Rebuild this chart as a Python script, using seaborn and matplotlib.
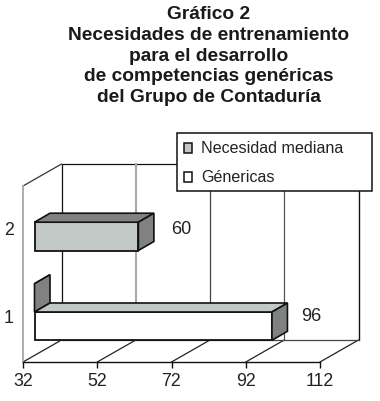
import numpy as np
import pandas as pd
import matplotlib
matplotlib.use("Agg")
import matplotlib.pyplot as plt
from matplotlib.patches import Patch, Polygon
from matplotlib.lines import Line2D
from matplotlib.transforms import IdentityTransform
import seaborn as sns

title = "Gráfico 2\nNecesidades de entrenamiento\npara el desarrollo\nde competencias genéricas\ndel Grupo de Contaduría"
categories = ["2", "1"]
necesidad_mediana = [60, 32]
genericas = [np.nan, 96]
series_names = ["Necesidad mediana", "Génericas"]
value_ticks = [32, 52, 72, 92, 112]

sns.set_theme(style="white")
plt.rcParams["font.family"] = ["Liberation Sans", "DejaVu Sans"]

W, H = 380, 401
fig = plt.figure(figsize=(W / 100, H / 100), dpi=100, facecolor="white")


def rect(l, r, t, b):
    return [l / W, 1 - b / H, (r - l) / W, (b - t) / H]


DARK = "#111111"
GRAY = "#c2c8c5"
SIDE = "#808282"
GRID = "#a8a8aa"
DX, DY = 38.5, 22  # wall depth in pixels
BX, BY = 15.5, 9   # bar depth in pixels

# front plane carrying the axes
ax = fig.add_axes(rect(23, 320, 186, 362), zorder=1)
ax.patch.set_alpha(0)
ax.set_xlim(value_ticks[0], value_ticks[-1])
ax.set_ylim(0, 2)
ax.set_xticks(value_ticks)
ax.set_yticks([0.52, 1.52])
ax.set_yticklabels(["1", "2"])
ax.tick_params(axis="x", length=4, width=1, color=DARK, pad=3.8, labelsize=12.8, labelcolor="#222222", bottom=True)
ax.tick_params(axis="y", length=0, pad=6.5, labelsize=12.8, labelcolor="#222222")
for s in ["top", "right"]:
    ax.spines[s].set_visible(False)
ax.spines["bottom"].set_color(DARK)
ax.spines["bottom"].set_linewidth(1)
ax.spines["left"].set_color(GRID)
ax.spines["left"].set_linewidth(1.3)


def disp(a, x, y):
    return a.transData.transform((x, y))


def seg(p, q, color=DARK, lw=0.9):
    ax.add_artist(Line2D([p[0], q[0]], [p[1], q[1]], color=color, lw=lw,
                         transform=IdentityTransform(), clip_on=False, zorder=1))


d = np.array([DX, DY])
top_l = disp(ax, value_ticks[0], 2)
top_r = disp(ax, value_ticks[-1], 2)
seg(top_l, top_l + d, color="#333333")
seg(top_l + d, top_r + d)
grid_styles = [(DARK, 0.9), (GRID, 1.5), ("#444444", 0.9), ("#555555", 0.9), (DARK, 1.0)]
for t, (c, w) in zip(value_ticks, grid_styles):
    base = disp(ax, t, 0)
    head = disp(ax, t, 2)
    seg(base, base + d, color="#222222", lw=0.9)
    seg(base + d, head + d, color=c, lw=w)
b_l, b_r = disp(ax, value_ticks[0], 0), disp(ax, value_ticks[-1], 0)
seg(b_l + d, b_r + d, color="#444444")

# bars: front faces come from seaborn
axb = fig.add_axes(rect(34.5, 331.3, 219.75, 342.75), zorder=2)
axb.patch.set_alpha(0)
df = pd.DataFrame({
    "cat": categories * 2,
    "serie": [series_names[0]] * 2 + [series_names[1]] * 2,
    "value": necesidad_mediana + genericas,
})
sns.barplot(data=df, y="cat", x="value", hue="serie", order=categories, hue_order=series_names,
            palette=[GRAY, "white"], saturation=1, width=0.92, dodge=True, gap=0,
            edgecolor=DARK, linewidth=1.3, legend=False, ax=axb)
axb.set_xlim(value_ticks[0], value_ticks[-1])
axb.set_ylim(1.5, -0.5)
axb.axis("off")
fig.canvas.draw()

face_colors = [(SIDE, SIDE), (GRAY, SIDE)]
o = np.array([BX, BY])
for cont, (top_c, side_c) in zip(axb.containers, face_colors):
    for p in cont.patches:
        val = p.get_width()
        if np.isnan(val):
            continue
        p.set_x(value_ticks[0])
        p.set_width(val - value_ticks[0])
        p.set_clip_on(False)
        y0, y1 = p.get_y(), p.get_y() + p.get_height()  # y1 is lower on screen
        tl, tr = disp(axb, value_ticks[0], y0), disp(axb, val, y0)
        br = disp(axb, val, y1)
        axb.add_artist(Polygon([tl, tr, tr + o, tl + o], closed=True, fc=top_c, ec=DARK, lw=1.2,
                               transform=IdentityTransform(), clip_on=False, zorder=p.get_zorder()))
        axb.add_artist(Polygon([tr, br, br + o, tr + o], closed=True, fc=side_c, ec=DARK, lw=1.2,
                               transform=IdentityTransform(), clip_on=False, zorder=p.get_zorder()))

# value labels
label_offsets = [(32.5, 7), (29, 10)]
vals = [(necesidad_mediana[0], axb.containers[0].patches[0]),
        (genericas[1], [q for q in axb.containers[1].patches if not np.isnan(q.get_width())][0])]
for (v, p), off in zip(vals, label_offsets):
    axb.annotate(f"{v:.0f}", xy=(v, p.get_y() + p.get_height() / 2), xytext=(off[0] * 0.72, off[1] * 0.72),
                 textcoords="offset points", ha="left", va="center", fontsize=13,
                 color="#222222", annotation_clip=False)

# legend
handles = [Patch(fc=GRAY, ec=DARK, lw=1.1), Patch(fc="white", ec=DARK, lw=1.1)]
leg = fig.legend(handles, series_names, loc="upper left",
                 bbox_to_anchor=(176.5 / W, 1 - 191 / H, 195 / W, 58.5 / H), mode="expand",
                 borderaxespad=0, fontsize=11.65, frameon=True, fancybox=False, framealpha=1,
                 edgecolor=DARK, facecolor="white", handlelength=0.5, handleheight=0.62,
                 handletextpad=0.55, labelspacing=0.85, borderpad=0.45, labelcolor="#222222")
leg.get_frame().set_linewidth(1.1)
for t in leg.get_texts():
    t.set_position((0, -1.5))
for hp in leg.get_patches():
    hp.set_y(hp.get_y() - 1.5)

fig.text(208.5 / W, 1 - 6 / H, title, ha="center", va="top", fontsize=13.8, fontweight="bold",
         color="#1a1a1a", linespacing=1.29)

fig.savefig("out.png", dpi=100, facecolor="white")
